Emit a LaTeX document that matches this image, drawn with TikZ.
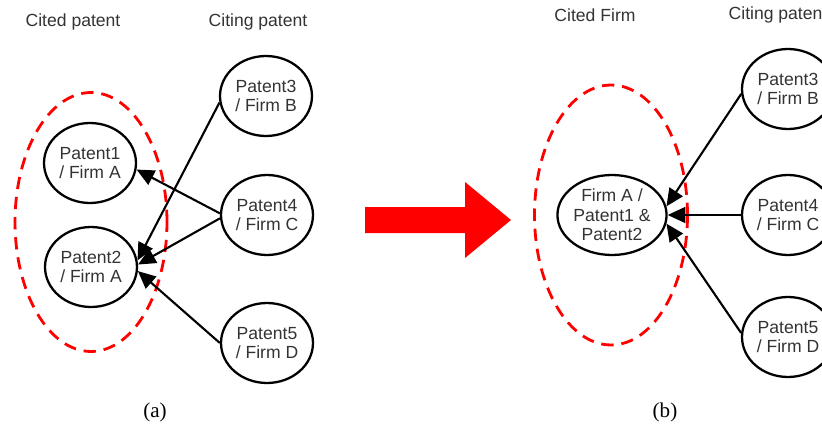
\documentclass[tikz,border=0pt]{standalone}
\usepackage{fontspec}
\setmainfont{Liberation Sans}
\newfontfamily\capfont{Liberation Serif}
\usetikzlibrary{arrows.meta,shapes.geometric}

\definecolor{txtgray}{HTML}{333333}
\definecolor{bigred}{HTML}{FF0000}

\begin{document}
\begin{tikzpicture}[x=0.02cm, y=-0.02cm,
	patent/.style={ellipse, draw, line width=1.3pt, minimum width=1.84cm, minimum height=1.6cm, inner sep=0pt, align=center, text=txtgray, font=\fontsize{10}{11}\selectfont},
	heading/.style={text=txtgray, font=\fontsize{10}{11}\selectfont},
	group/.style={ellipse, draw=bigred, line width=1.6pt, dash pattern=on 7pt off 4.5pt, inner sep=0pt},
	cite/.style={line width=1.2pt, -{Triangle[length=10pt,width=9pt]}},
	sublabel/.style={font=\capfont\fontsize{12}{14}\selectfont}]
	\useasboundingbox (0,0) rectangle (822,436);

	% (a) patent level
	\node[heading] (citedA) at (73,22) {Cited patent};
	\node[heading] (citingA) at (258,22) {Citing patent};
	\node[group, minimum width=3.04cm, minimum height=5.18cm] (grpA) at (91,222) {};
	\node[patent] (p1) at (90,163) {Patent1\\/ Firm A};
	\node[patent] (p2) at (91,267) {Patent2\\/ Firm A};
	\node[patent] (p3) at (266,96) {Patent3\\/ Firm B};
	\node[patent] (p4) at (267,215) {Patent4\\/ Firm C};
	\node[patent] (p5) at (267,343) {Patent5\\/ Firm D};
	\draw[cite] (p3.188) -- (p2.8);
	\draw[cite] (p4.178) -- (p1.-8);
	\draw[cite] (p4.184) -- (p2.3);
	\draw[cite] (p5.180) -- (p2.-5);
	\node[sublabel] (capA) at (155,412) {(a)};

	% big arrow
	\fill[bigred] (365,207) -- (465,207) -- (465,182) -- (511,220) -- (465,258) -- (465,233) -- (365,233) -- cycle;

	% (b) firm level
	\node[heading] (citedB) at (595,15) {Cited Firm};
	\node[heading] (citingB) at (778,15) {Citing patent};
	\node[group, minimum width=3.06cm, minimum height=5.2cm] (grpB) at (611,215) {};
	\node[patent] (m) at (612,215) {Firm A /\\Patent1 \&\\Patent2};
	\node[patent] (q3) at (788,89) {Patent3\\/ Firm B};
	\node[patent] (q4) at (788,215) {Patent4\\/ Firm C};
	\node[patent] (q5) at (788,337) {Patent5\\/ Firm D};
	\draw[cite] (q3.186) -- (m.9);
	\draw[cite] (q4.180) -- (m.0);
	\draw[cite] (q5.175) -- (m.-9);
	\node[sublabel] (capB) at (665,412) {(b)};
\end{tikzpicture}
\end{document}
